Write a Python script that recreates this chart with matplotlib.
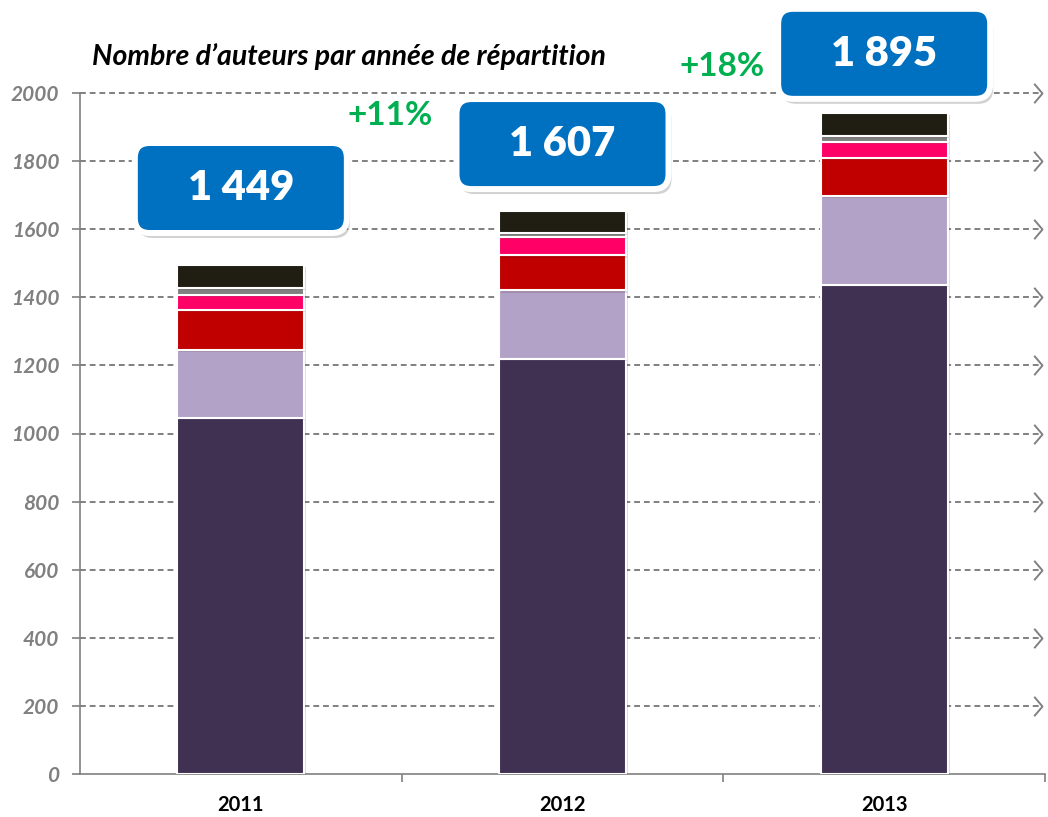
import matplotlib.pyplot as plt
import matplotlib.patheffects as pe
from matplotlib.patches import FancyBboxPatch
from matplotlib.path import Path
from matplotlib.transforms import IdentityTransform

plt.rcParams['font.family'] = ['Lato', 'DejaVu Sans']

years = ['2011', '2012', '2013']
# empilement des catégories (bas -> haut)
seg_dark = [1045, 1220, 1436]
seg_lilac = [200, 200, 261]
seg_red = [118, 103, 112]
seg_pink = [44, 53, 47]
seg_gray = [20, 12, 18]
seg_black = [68, 65, 67]
segments = [seg_dark, seg_lilac, seg_red, seg_pink, seg_gray, seg_black]
colors = ['#403152', '#B3A2C7', '#C00000', '#FF0066', '#808080', '#201E12']

totals = ['1 449', '1 607', '1 895']
box_y = [1721, 1850, 2115]
growth = ['+11%', '+18%']
growth_pos = [(0.464, 1935), (1.496, 2079)]
grid_vals = [200, 400, 600, 800, 1000, 1200, 1400, 1600, 1800, 2000]

fig = plt.figure(figsize=(10.48, 8.17), dpi=100)
ax = fig.add_axes([80 / 1048, 1 - 774 / 817, 965 / 1048, 681 / 817])
ax.set_xlim(-0.5, 2.5)
ax.set_ylim(0, 2000)

# lignes de grille en tirets avec chevron
chevron = Path([(-0.85, 1), (0, 0), (-0.85, -1)],
               [Path.MOVETO, Path.LINETO, Path.LINETO])
for v in grid_vals:
    ax.plot([-0.5, 2.49], [v, v], color='#808080', lw=1.4,
            linestyle=(0, (3, 2)), zorder=1, clip_on=False)
    ax.plot([2.49], [v], marker=chevron, ms=14, mfc='none', mec='#808080',
            mew=1.4, zorder=1, clip_on=False)

x = range(len(years))
bottom = [0, 0, 0]
for seg, c in zip(segments, colors):
    ax.bar(x, seg, width=0.395, bottom=bottom, color=c, edgecolor='white',
           linewidth=1.5, zorder=3,
           path_effects=[pe.SimplePatchShadow(offset=(1.5, -1.5), alpha=0.15),
                         pe.Normal()])
    bottom = [b + s for b, s in zip(bottom, seg)]

for s in ['top', 'right']:
    ax.spines[s].set_visible(False)
for s in ['left', 'bottom']:
    ax.spines[s].set_color('#808080')
    ax.spines[s].set_linewidth(1.2)

ax.set_yticks([0] + grid_vals)
ax.set_yticklabels([str(v) for v in [0] + grid_vals], fontsize=15,
                   fontweight='bold', fontstyle='italic', color='#808080')
ax.tick_params(axis='y', length=6, width=1.2, color='#808080', pad=9)
ax.set_xticks(list(x))
ax.set_xticklabels(years, fontsize=14.5, fontweight='bold', color='black')
ax.set_xticks([0.5, 1.5, 2.5], minor=True)
ax.tick_params(axis='x', which='major', length=0, pad=15)
ax.tick_params(axis='x', which='minor', length=6, width=1.2, color='#808080')

ax.text(-0.463, 2106, 'Nombre d\u2019auteurs par ann\u00e9e de r\u00e9partition',
        fontsize=20.5, fontweight='bold', fontstyle='italic', color='black',
        va='center', ha='left', clip_on=False)

for (gx, gy), g in zip(growth_pos, growth):
    ax.text(gx, gy, g, fontsize=24, fontweight='bold', color='#00B050',
            ha='center', va='center', clip_on=False)

# cartouches bleus avec totaux
fig.canvas.draw()
bw, bh = 212, 90
for i, (t, yb) in enumerate(zip(totals, box_y)):
    cx, cy = ax.transData.transform((i, yb))
    shadow = FancyBboxPatch((cx - bw / 2 + 3, cy - bh / 2 - 5), bw, bh,
                            boxstyle='round,pad=0,rounding_size=15',
                            fc='#7f7f7f', ec='none', alpha=0.35,
                            transform=IdentityTransform(), zorder=5,
                            clip_on=False)
    box = FancyBboxPatch((cx - bw / 2, cy - bh / 2), bw, bh,
                         boxstyle='round,pad=0,rounding_size=15',
                         fc='#0070C0', ec='white', lw=4.3,
                         transform=IdentityTransform(), zorder=6,
                         clip_on=False)
    ax.add_artist(shadow)
    ax.add_artist(box)
    ax.text(i, yb, t, fontsize=30, fontweight='heavy', color='white',
            ha='center', va='center', zorder=7, clip_on=False)

fig.savefig('out.png', dpi=100)
